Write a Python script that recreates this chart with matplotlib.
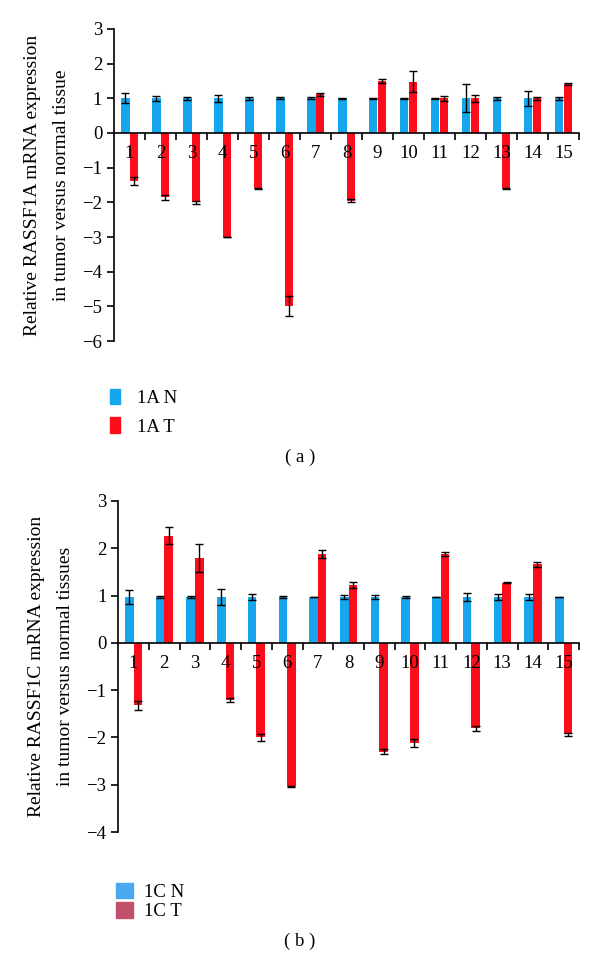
import matplotlib
matplotlib.use("Agg")
import matplotlib.pyplot as plt
from matplotlib.patches import Patch
import numpy as np

plt.rcParams['font.family'] = ['Liberation Serif', 'DejaVu Serif']

samples = [str(i) for i in range(1, 16)]

# RASSF1A (panel a)
a_normal = [1.0] * 15
a_normal_err = [0.14, 0.08, 0.05, 0.1, 0.05, 0.03, 0.03, 0.01, 0.01, 0.01, 0.01, 0.4, 0.05, 0.21, 0.04]
a_tumor = [-1.38, -1.86, -2.0, -3.0, -1.6, -4.99, 1.11, -1.95, 1.5, 1.48, 1.0, 1.0, -1.6, 1.0, 1.4]
a_tumor_err = [0.12, 0.07, 0.05, 0.01, 0.01, 0.3, 0.03, 0.04, 0.05, 0.3, 0.07, 0.1, 0.01, 0.05, 0.03]

# RASSF1C (panel b)
c_normal = [0.97] * 15
c_normal_err = [0.15, 0.03, 0.02, 0.16, 0.06, 0.02, 0.01, 0.04, 0.04, 0.02, 0.01, 0.08, 0.06, 0.06, 0.01]
c_tumor = [-1.32, 2.27, 1.79, -1.21, -2.0, -3.03, 1.88, 1.23, -2.3, -2.12, 1.88, -1.81, 1.27, 1.66, -1.93]
c_tumor_err = [0.1, 0.18, 0.3, 0.05, 0.07, 0.01, 0.08, 0.06, 0.05, 0.08, 0.05, 0.05, 0.01, 0.06, 0.03]

blue = '#16a6ee'
red = '#fb0d1b'
fs = 13.5


def draw_panel(ax, normal, normal_err, tumor, tumor_err, ylim, ylabel):
    x = np.arange(1, len(samples) + 1)
    w = 0.28
    ekw = dict(ecolor='black', capsize=3, elinewidth=1, capthick=1)
    ax.bar(x - w / 2, normal, w, color=blue, yerr=normal_err, error_kw=ekw, zorder=2)
    ax.bar(x + w / 2, tumor, w, color=red, yerr=tumor_err, error_kw=ekw, zorder=2)

    ax.set_xlim(0.5, 15.5)
    ax.set_ylim(*ylim)
    ax.set_yticks(range(ylim[0], ylim[1] + 1))
    ax.set_yticklabels([str(v).replace('-', '\u2212') for v in range(ylim[0], ylim[1] + 1)])
    ax.set_axisbelow(False)  # sample numbers sit on top of the bars

    ax.spines['top'].set_visible(False)
    ax.spines['right'].set_visible(False)
    ax.spines['bottom'].set_position(('data', 0))
    ax.spines['left'].set_linewidth(1.2)
    ax.spines['bottom'].set_linewidth(1.2)

    # boundary ticks on the zero line, labels at the category centres
    ax.set_xticks(np.arange(1.5, 15.6, 1))
    ax.set_xticklabels([])
    ax.set_xticks(x, minor=True)
    ax.set_xticklabels(samples, minor=True)
    ax.tick_params(axis='x', which='major', direction='out', length=5, width=1.2)
    ax.tick_params(axis='x', which='minor', length=0, pad=9, labelsize=fs)
    ax.tick_params(axis='y', direction='out', length=5, width=1.2, labelsize=fs)
    ax.set_ylabel(ylabel, fontsize=fs + 0.5, linespacing=1.9, labelpad=9)


fig = plt.figure(figsize=(6, 9.59), dpi=100)

ax1 = fig.add_axes([0.19, 0.6444, 0.775, 0.3254])
draw_panel(ax1, a_normal, a_normal_err, a_tumor, a_tumor_err, (-6, 3),
           'Relative RASSF1A mRNA expression\nin tumor versus normal tissue')
fig.legend(handles=[Patch(color=blue, label='1A N'), Patch(color=red, label='1A T')],
           loc='upper left', bbox_to_anchor=(0.155, 1 - 372 / 959), frameon=False,
           fontsize=fs, handlelength=0.55, handleheight=0.9, handletextpad=0.9, labelspacing=0.55)
fig.text(0.5, 1 - 457 / 959, '( a )', ha='center', va='center', fontsize=fs)

ax2 = fig.add_axes([0.197, 0.1324, 0.768, 0.3452])
draw_panel(ax2, c_normal, c_normal_err, c_tumor, c_tumor_err, (-4, 3),
           'Relative RASSF1C mRNA expression\nin tumor versus normal tissues')
fig.legend(handles=[Patch(color='#4aa8f0', label='1C N'), Patch(color='#c2506c', label='1C T')],
           loc='upper left', bbox_to_anchor=(0.165, 1 - 866 / 959), frameon=False,
           fontsize=fs, handlelength=0.9, handleheight=0.9, handletextpad=0.6, labelspacing=0.05)
fig.text(0.5, 1 - 941 / 959, '( b )', ha='center', va='center', fontsize=fs)

fig.savefig('out.png', dpi=100)
